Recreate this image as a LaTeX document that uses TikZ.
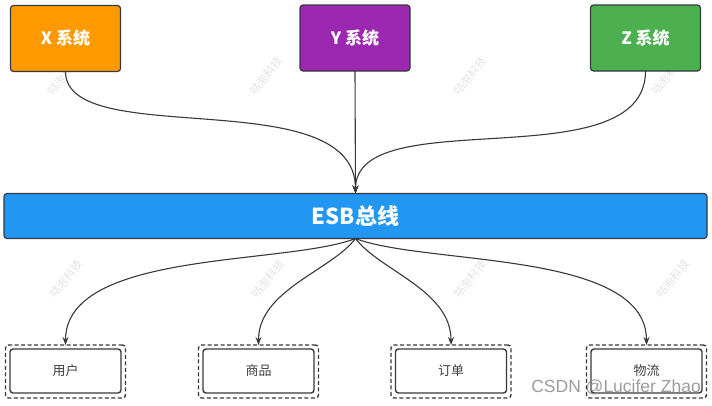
\documentclass[tikz,border=0pt]{standalone}
\usepackage{fontspec}
\setmainfont{Liberation Sans}
\newfontfamily\cjk{Noto Sans CJK SC}
\usetikzlibrary{arrows.meta}
\definecolor{xorange}{HTML}{FF9900}
\definecolor{ypurple}{HTML}{9C27B0}
\definecolor{zgreen}{HTML}{4CAF50}
\definecolor{esbblue}{HTML}{2196F3}
\definecolor{edge}{HTML}{36393D}
\definecolor{wm}{HTML}{E2E2E2}
\tikzset{
  sysbox/.style={draw=edge, line width=1.2pt, rounded corners=3pt, minimum width=110pt, minimum height=66pt, inner sep=0pt, outer sep=0pt, text=white, font=\cjk\bfseries\fontsize{17}{19}\selectfont},
  esbbox/.style={draw=edge, line width=1.2pt, rounded corners=3pt, fill=esbblue, minimum width=703pt, minimum height=45pt, inner sep=0pt, outer sep=0pt, text=white, font=\cjk\bfseries\fontsize{22}{24}\selectfont},
  outerbox/.style={draw=edge, line width=1.4pt, dash pattern=on 4pt off 2.5pt, rounded corners=3pt, minimum width=120pt, minimum height=53pt, inner sep=0pt, outer sep=0pt},
  innerbox/.style={draw=edge, line width=1.4pt, rounded corners=3pt, minimum width=111pt, minimum height=44pt, inner sep=0pt, outer sep=0pt, text=black!75, font=\cjk\fontsize{13}{15}\selectfont},
  conn/.style={draw=edge, line width=1.1pt, -{Stealth[length=8pt,width=6pt]}},
  wmark/.style={text=wm, rotate=52, inner sep=0pt, font=\cjk\fontsize{11}{12}\selectfont},
}
\begin{document}
\begin{tikzpicture}[x=1pt,y=-1pt]
\useasboundingbox (0,0) rectangle (712,405);
\fill[white] (0,0) rectangle (712,405);
% watermarks
\foreach \wx/\wy in {64/76, 266/76, 470/76, 668/76, 66/279, 268/279, 470/279, 673/279}
  \node[wmark] (w\wx\wy) at (\wx,\wy) {咕泡科技};
% systems
\node[sysbox, fill=xorange] (x) at (65.5,38.5) {X 系统};
\node[sysbox, fill=ypurple] (y) at (355,38) {Y 系统};
\node[sysbox, fill=zgreen] (z) at (645.5,38) {Z 系统};
% esb
\node[esbbox] (esb) at (355.5,216) {ESB总线};
% bottom boxes
\node[outerbox] (o1) at (65.5,371.5) {};
\node[innerbox] (i1) at (65.5,371) {用户};
\node[outerbox] (o2) at (258.5,371.5) {};
\node[innerbox] (i2) at (258.5,371) {商品};
\node[outerbox] (o3) at (451,371.5) {};
\node[innerbox] (i3) at (451,371) {订单};
\node[outerbox] (o4) at (646.5,371.5) {};
\node[innerbox] (i4) at (646.5,371) {物流};
% connectors top
\draw[conn] (x.south) .. controls +(0,80) and +(0,-113) .. (esb.north);
\draw[conn] (y.south) -- (esb.north);
\draw[conn] (z.south) .. controls +(0,110) and +(0,-93) .. (esb.north);
% connectors bottom
\draw[conn] (esb.south) .. controls +(-70,27) and +(0,-95) .. (o1.north);
\draw[conn] (esb.south) .. controls +(-24,32) and +(0,-55) .. (o2.north);
\draw[conn] (esb.south) .. controls +(24,32) and +(0,-55) .. (o3.north);
\draw[conn] (esb.south) .. controls +(70,27) and +(0,-95) .. (o4.north);
% csdn watermark
\node[text=black!45, opacity=0.85, font=\fontsize{17.5}{19}\selectfont, anchor=east, inner sep=0pt] (csdn) at (701,387) {CSDN @Lucifer Zhao};
\end{tikzpicture}
\end{document}
